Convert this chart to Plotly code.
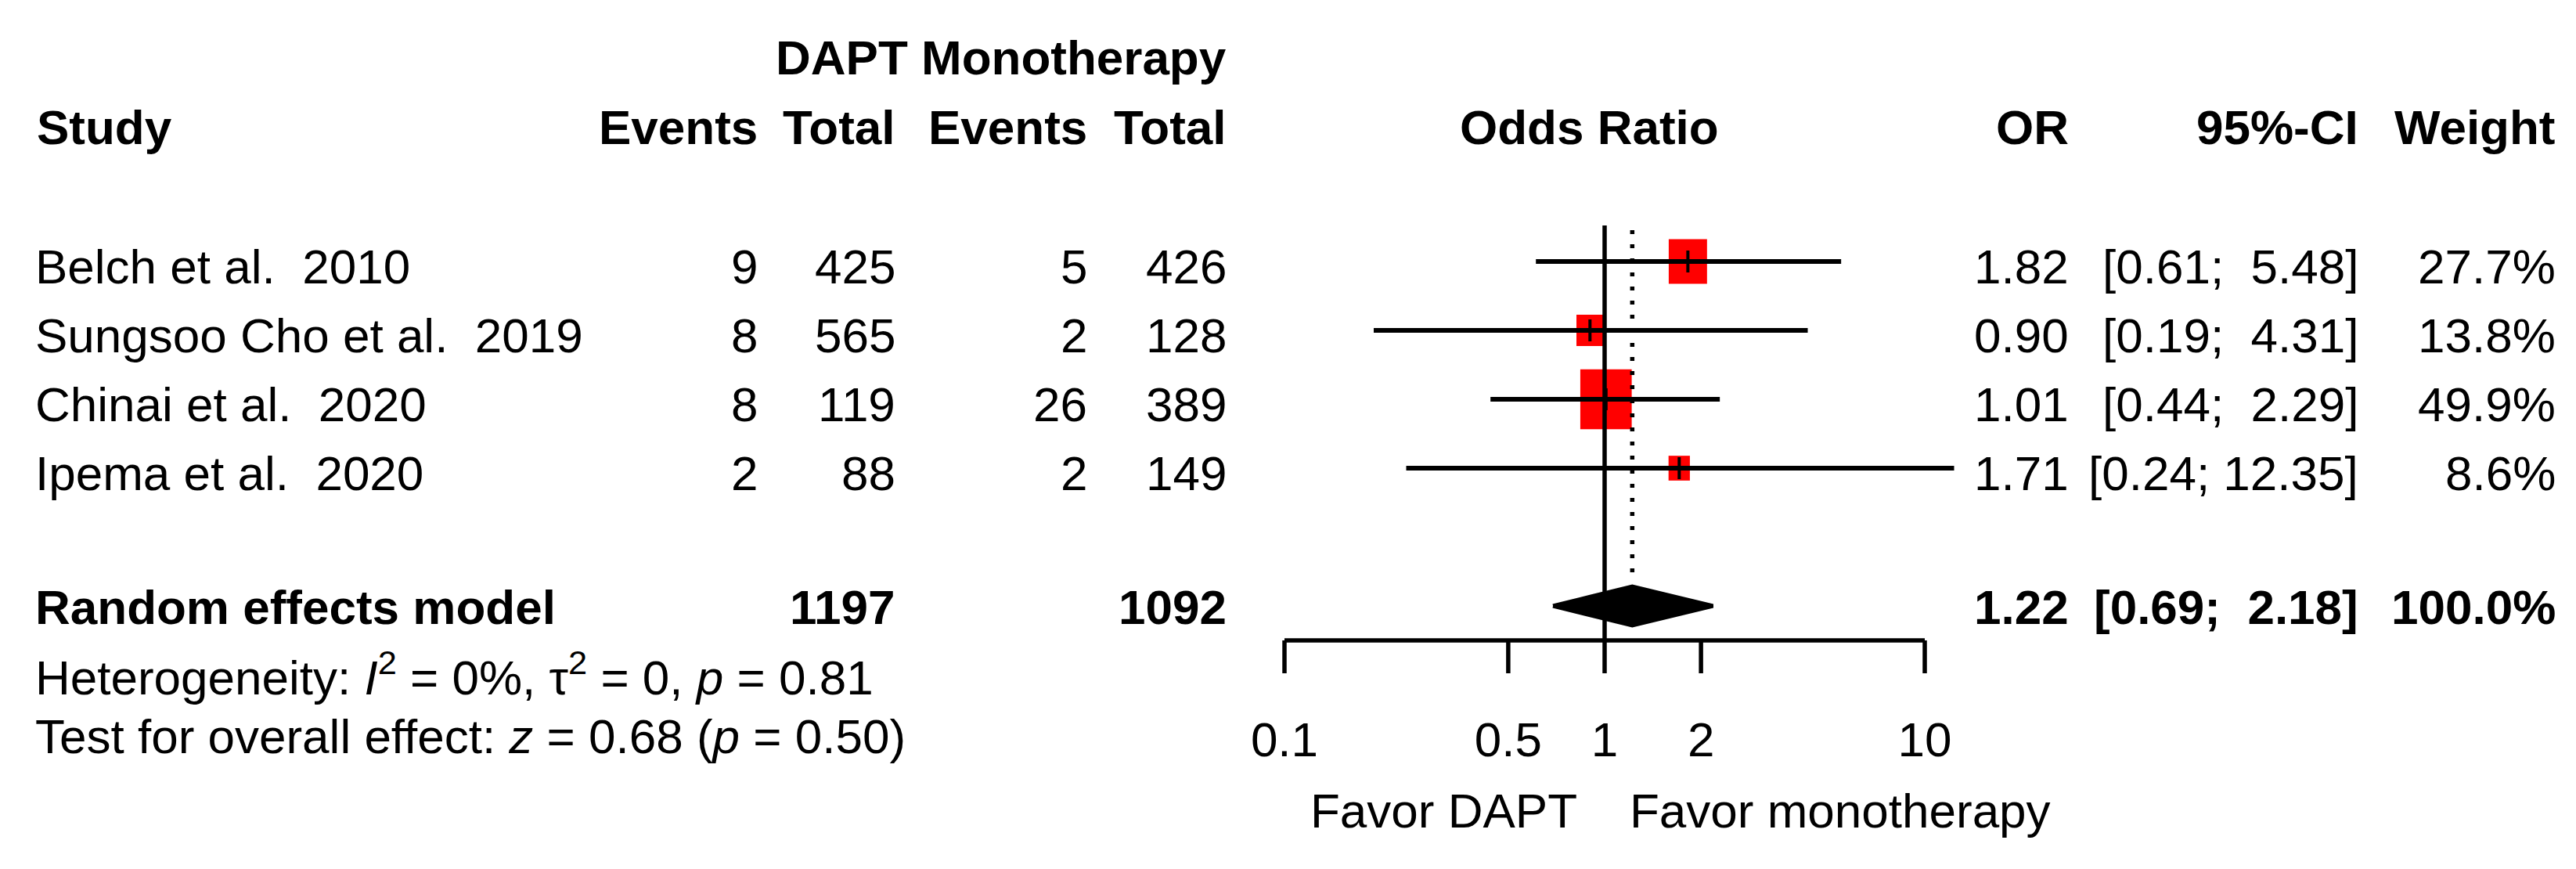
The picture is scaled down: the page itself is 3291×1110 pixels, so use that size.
import numpy as np
import plotly.graph_objects as go

# ---------------- data ----------------
studies = ["Belch et al.\u00a0\u00a02010", "Sungsoo Cho et al.\u00a0\u00a02019",
           "Chinai et al.\u00a0\u00a02020", "Ipema et al.\u00a0\u00a02020"]
events_dapt = [9, 8, 8, 2]
total_dapt = [425, 565, 119, 88]
events_mono = [5, 2, 26, 2]
total_mono = [426, 128, 389, 149]
or_est = [1.82, 0.90, 1.01, 1.71]
ci_lo = [0.61, 0.19, 0.44, 0.24]
ci_hi = [5.48, 4.31, 2.29, 12.35]
weights = [27.7, 13.8, 49.9, 8.6]

pooled_label = "Random effects model"
pooled_total_dapt = 1197
pooled_total_mono = 1092
pooled_or = 1.22
pooled_lo = 0.69
pooled_hi = 2.18
pooled_weight = 100.0

het_text = "Heterogeneity: <i>I</i><sup>2</sup> = 0%, \u03c4<sup>2</sup> = 0, <i>p</i> = 0.81"
test_text = "Test for overall effect: <i>z</i> = 0.68 (<i>p</i> = 0.50)"

tick_vals = [0.1, 0.5, 1, 2, 10]
tick_labels = ["0.1", "0.5", "1", "2", "10"]
favor_left = "Favor DAPT"
favor_right = "Favor monotherapy"

# ---------------- layout helpers ----------------
W, H = 3291, 1110
FONT = "Liberation Sans, Arial, sans-serif"
FS = 62
ROW_PX = 88.0
ROW1_PX = 326.0
X1_PX = 2042.0
DEC_PX = 409.0


def r(px):
    return 1 + (px - ROW1_PX) / ROW_PX


def fmt_ci(lo, hi):
    hi_s = f"{hi:.2f}"
    pad = "\u00a0" if len(hi_s) < 5 else ""
    return f"[{lo:.2f};{pad} {hi_s}]"


fig = go.Figure()

rows = [1, 2, 3, 4]
POOLED_ROW = 6

# weight boxes
for est, w, rr in zip(or_est, weights, rows):
    hw = 4.65 * np.sqrt(w) / DEC_PX
    hh = 5.4 * np.sqrt(w) / ROW_PX
    le = np.log10(est)
    xs = [10 ** (le - hw), 10 ** (le + hw), 10 ** (le + hw), 10 ** (le - hw), 10 ** (le - hw)]
    ys = [rr - hh, rr - hh, rr + hh, rr + hh, rr - hh]
    fig.add_trace(go.Scatter(x=xs, y=ys, mode="lines", fill="toself", fillcolor="#ff0000",
                             line=dict(color="#ff0000", width=0), hoverinfo="skip",
                             showlegend=False))

# reference line at 1
fig.add_trace(go.Scatter(x=[1, 1], y=[r(280), r(810)], mode="lines",
                         line=dict(color="black", width=5.5), hoverinfo="skip", showlegend=False))

# dotted pooled line
fig.add_trace(go.Scatter(x=[pooled_or, pooled_or], y=[r(286), r(736)], mode="lines",
                         line=dict(color="black", width=5.5, dash="5px,13px"),
                         hoverinfo="skip", showlegend=False))

# confidence interval lines
cx, cy = [], []
for lo, hi, rr in zip(ci_lo, ci_hi, rows):
    cx += [lo, hi, None]
    cy += [rr, rr, None]
fig.add_trace(go.Scatter(x=cx, y=cy, mode="lines", line=dict(color="black", width=6),
                         hoverinfo="skip", showlegend=False))

# estimate ticks
fig.add_trace(go.Scatter(x=or_est, y=rows, mode="markers",
                         marker=dict(symbol="line-ns", size=20, line=dict(color="black", width=4)),
                         hoverinfo="skip", showlegend=False))

# diamond
dh = 25 / ROW_PX
fig.add_trace(go.Scatter(x=[pooled_lo, pooled_or, pooled_hi, pooled_or, pooled_lo],
                         y=[POOLED_ROW, POOLED_ROW - dh, POOLED_ROW, POOLED_ROW + dh, POOLED_ROW],
                         mode="lines", fill="toself", fillcolor="black",
                         line=dict(color="black", width=5), hoverinfo="skip", showlegend=False))

# axis line and ticks
AX_R = r(810)
TK_R = r(852)
ax_x = [tick_vals[0], tick_vals[-1], None]
ax_y = [AX_R, AX_R, None]
for t in tick_vals:
    ax_x += [t, t, None]
    ax_y += [AX_R, TK_R, None]
fig.add_trace(go.Scatter(x=ax_x, y=ax_y, mode="lines", line=dict(color="black", width=5.5),
                         hoverinfo="skip", showlegend=False))

# tick labels
fig.add_trace(go.Scatter(x=tick_vals, y=[r(942)] * len(tick_vals), mode="text",
                         text=tick_labels, textposition="middle center",
                         textfont=dict(family=FONT, size=FS, color="black"),
                         hoverinfo="skip", showlegend=False, cliponaxis=False))

# ---------------- text table ----------------
ann = []


def txt(xpx, yrow, s, anchor="left", bold=False):
    if bold:
        s = f"<b>{s}</b>"
    ann.append(dict(x=xpx / W, xref="paper", y=yrow, yref="y", text=s, showarrow=False,
                    xanchor=anchor, yanchor="middle",
                    font=dict(family=FONT, size=FS, color="black")))


COL_STUDY = 35
COL_E1 = 962
COL_T1 = 1138
COL_E2 = 1383
COL_T2 = 1561
COL_OR = 2637
COL_CI = 3007
COL_W = 3259
COL_OR_HDR = 2022
TOFF = 0.07

# headers
txt(COL_T2, r(65), "DAPT Monotherapy", "right", True)
HR = r(154)
txt(COL_STUDY + 2, HR, "Study", "left", True)
txt(COL_E1, HR, "Events", "right", True)
txt(COL_T1, HR, "Total", "right", True)
txt(COL_E2, HR, "Events", "right", True)
txt(COL_T2, HR, "Total", "right", True)
txt(COL_OR_HDR, HR, "Odds Ratio", "center", True)
txt(COL_OR, HR, "OR", "right", True)
txt(COL_CI, HR, "95%-CI", "right", True)
txt(COL_W, HR, "Weight", "right", True)

for i, rr in enumerate(rows):
    y = rr + TOFF
    txt(COL_STUDY, y, studies[i], "left")
    txt(COL_E1, y, str(events_dapt[i]), "right")
    txt(COL_T1, y, str(total_dapt[i]), "right")
    txt(COL_E2, y, str(events_mono[i]), "right")
    txt(COL_T2, y, str(total_mono[i]), "right")
    txt(COL_OR, y, f"{or_est[i]:.2f}", "right")
    txt(COL_CI, y, fmt_ci(ci_lo[i], ci_hi[i]), "right")
    txt(COL_W, y, f"{weights[i]:.1f}%", "right")

y = POOLED_ROW + 0.02
txt(COL_STUDY, y, pooled_label, "left", True)
txt(COL_T1, y, str(pooled_total_dapt), "right", True)
txt(COL_T2, y, str(pooled_total_mono), "right", True)
txt(COL_OR, y, f"{pooled_or:.2f}", "right", True)
txt(COL_CI, y, fmt_ci(pooled_lo, pooled_hi), "right", True)
txt(COL_W, y, f"{pooled_weight:.1f}%", "right", True)

txt(COL_STUDY, r(853), het_text, "left")
txt(COL_STUDY, r(932), test_text, "left")

txt(2009, r(1027), favor_left, "right")
txt(2072, r(1027), favor_right, "left")

x_lo = (0 - X1_PX) / DEC_PX
x_hi = (W - X1_PX) / DEC_PX
fig.update_layout(
    width=W, height=H, margin=dict(l=0, r=0, t=0, b=0),
    paper_bgcolor="white", plot_bgcolor="white",
    xaxis=dict(type="log", range=[x_lo, x_hi], visible=False, domain=[0, 1]),
    yaxis=dict(range=[r(H), r(0)], visible=False, domain=[0, 1]),
    annotations=ann, showlegend=False,
    font=dict(family=FONT, size=FS, color="black"),
)

fig.write_html("out.html")
